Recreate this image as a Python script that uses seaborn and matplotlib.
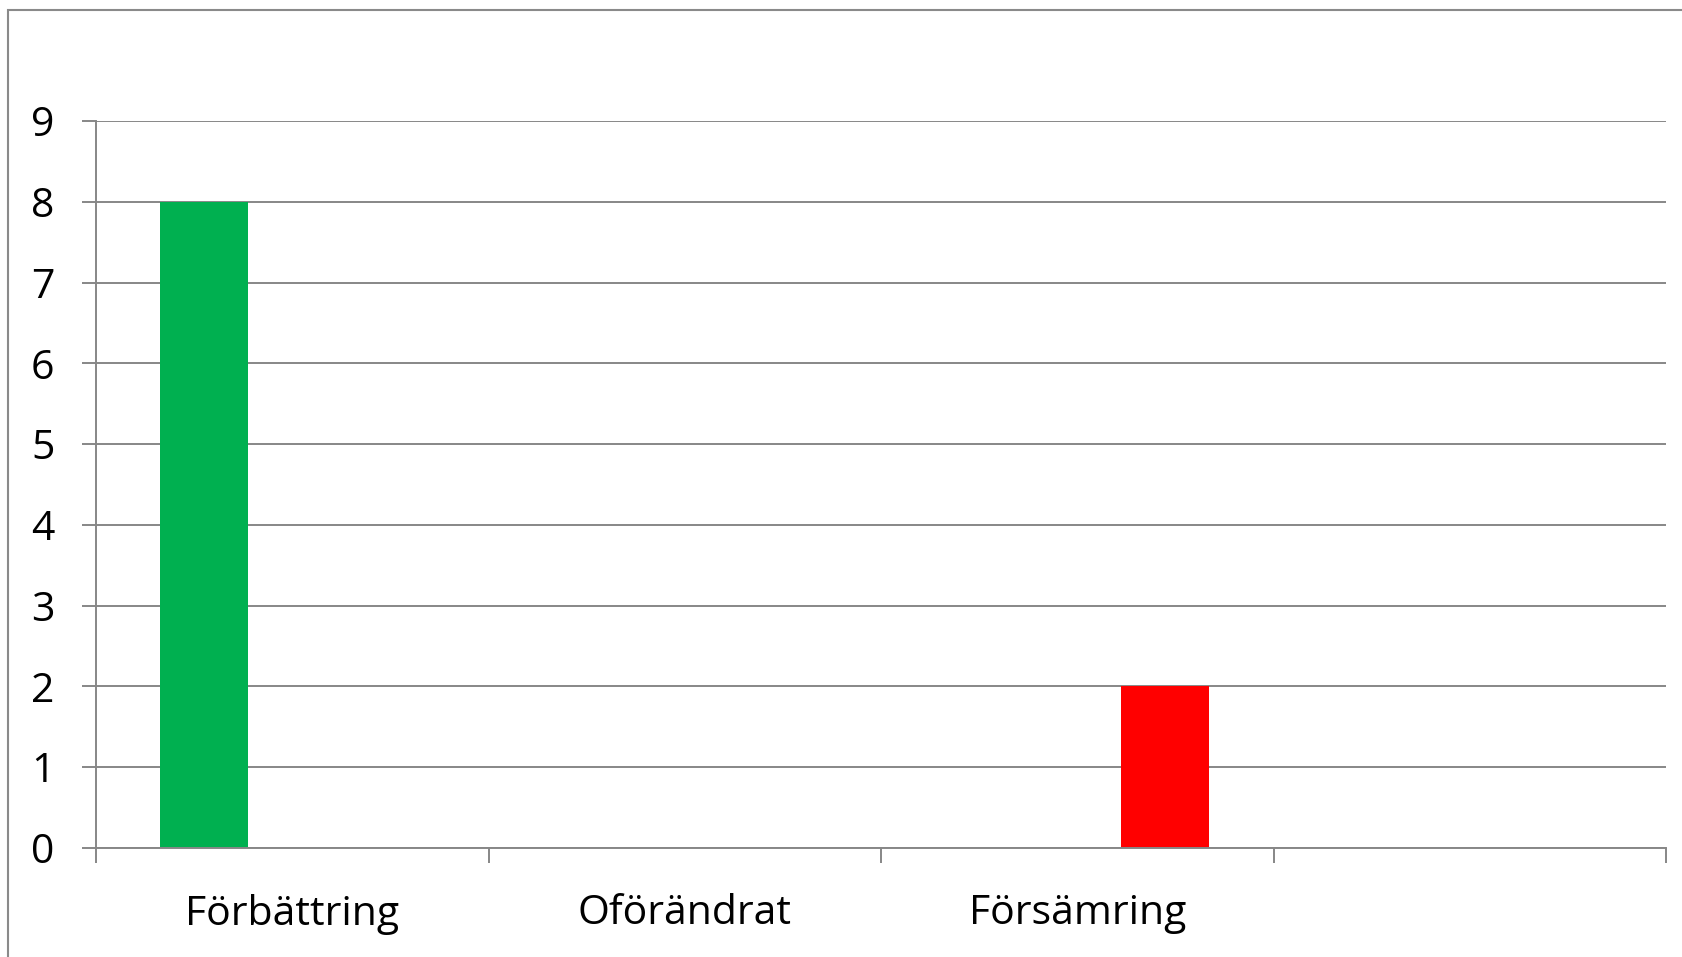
import numpy as np
import pandas as pd
import matplotlib
matplotlib.use("Agg")
import matplotlib.pyplot as plt
import seaborn as sns
from matplotlib.patches import Rectangle

# -------------------------------
# Data
# -------------------------------
categories = ["Förbättring", "Oförändrat", "Försämring", ""]
series = ["Förbättring", "Oförändrat", "Försämring"]
series_colors = ["#00B050", "#FFFF00", "#FF0000"]

forbattring_vals = [8, 0, 0, 0]
oforandrat_vals = [0, 0, 0, 0]
forsamring_vals = [0, 0, 2, 0]

y_ticks = [0, 1, 2, 3, 4, 5, 6, 7, 8, 9]

df = pd.DataFrame({
    "Kategori": categories * 3,
    "Serie": [series[0]] * 4 + [series[1]] * 4 + [series[2]] * 4,
    "Antal": forbattring_vals + oforandrat_vals + forsamring_vals,
})

# -------------------------------
# Style
# -------------------------------
sns.set_style("white")
plt.rcParams["font.family"] = ["Open Sans", "DejaVu Sans"]

grid_col = "#878787"

fig = plt.figure(figsize=(16.82, 9.57), dpi=100)
ax = fig.add_axes([96 / 1682, 109 / 957, 1570 / 1682, 727 / 957])

sns.barplot(
    data=df,
    x="Kategori",
    y="Antal",
    hue="Serie",
    order=categories,
    hue_order=series,
    palette=series_colors,
    width=0.673,
    linewidth=0,
    saturation=1,
    legend=False,
    ax=ax,
)

ax.set_xlim(-0.5, len(categories) - 0.5)
ax.set_ylim(0, 9)
ax.set_yticks(y_ticks)
ax.yaxis.grid(True, color=grid_col, linewidth=1.4)
ax.set_axisbelow(True)

# category boundaries as ticks, labels centred on slots
ax.set_xticks(np.arange(len(categories) + 1) - 0.5)
ax.set_xticklabels([])
ax.set_xticks(np.arange(len(categories)), minor=True)
ax.set_xticklabels(categories, minor=True)
ax.tick_params(axis="x", which="major", bottom=True, length=11, width=1.4,
               color=grid_col, direction="out")
ax.tick_params(axis="x", which="minor", bottom=True, length=0, pad=33,
               labelsize=29.5, labelcolor="black")
ax.tick_params(axis="y", left=True, length=10, width=1.4, color=grid_col,
               direction="out", pad=20, labelsize=29.5, labelcolor="black")

for side in ["top", "right"]:
    ax.spines[side].set_visible(False)
for side in ["left", "bottom"]:
    ax.spines[side].set_color(grid_col)
    ax.spines[side].set_linewidth(1.4)

ax.set_xlabel("")
ax.set_ylabel("")

# outer chart frame
fig.patches.append(Rectangle(
    (8 / 1682, -0.1), 1.2, (957 - 10) / 957 + 0.1,
    transform=fig.transFigure, fill=False, edgecolor="#8a8a8a", linewidth=1.5,
))

fig.savefig("out.png", dpi=100)
plt.close()
